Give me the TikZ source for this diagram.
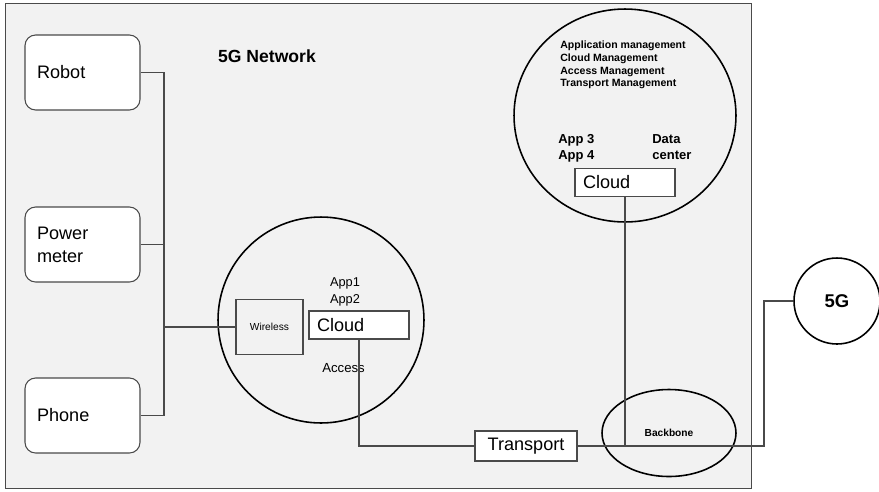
\documentclass[tikz,border=0pt]{standalone}
\usepackage{fontspec}
\setmainfont{Liberation Sans}
\usetikzlibrary{shapes.geometric, positioning}
\definecolor{netgray}{HTML}{F2F2F2}
\definecolor{linegray}{HTML}{4A4A4A}

\begin{document}
\begin{tikzpicture}[
    x=0.02cm, y=-0.02cm,
    device/.style={rectangle, rounded corners=6pt, draw=linegray, fill=white, line width=0.6pt,
        minimum width=2.3cm, minimum height=1.5cm, text width=1.82cm, inner xsep=0.24cm,
        align=left, font=\fontsize{10.3}{13}\selectfont},
    cloudbox/.style={rectangle, draw=linegray, fill=white, line width=0.6pt,
        minimum width=2cm, minimum height=0.56cm, text width=1.68cm, inner xsep=0.16cm,
        align=left, font=\fontsize{10.3}{12}\selectfont},
    ring/.style={ellipse, draw=black, line width=0.9pt, inner sep=0pt},
    wire/.style={draw=linegray, line width=0.6pt},
    note/.style={inner sep=0pt, align=left, font=\fontsize{7.3}{9.7}\selectfont},
    boldnote/.style={inner sep=0pt, align=left, font=\bfseries\fontsize{7.4}{9.1}\selectfont}
]
\useasboundingbox (0,0) rectangle (879,491);

% The 5G network frame
\node[rectangle, draw=linegray, fill=netgray, line width=0.6pt,
      minimum width=14.94cm, minimum height=9.72cm] (net) at (378.5,246) {};
\node[font=\bfseries\fontsize{10}{12}\selectfont] (title) at (267,56) {5G Network};

% Junction and bend of the wires
\coordinate (jct) at (164,327);
\coordinate (bend) at (764,446);

% Devices
\node[device] (robot) at (82.5,72.5) {Robot};
\node[device] (power) at (82.5,244.5) {Power\\meter};
\node[device] (phone) at (82.5,415.5) {Phone};

% Access site
\node[ring, minimum width=4.12cm, minimum height=4.12cm] (access) at (321,320) {};
\node[note, anchor=north, align=center] (apps12) at (345,277) {App1\\App2};
\node[note, anchor=north west, font=\fontsize{7.5}{9}\selectfont] (acc) at (322,363) {Access};
\node[rectangle, draw=linegray, fill=netgray, line width=0.6pt, minimum width=1.34cm,
      minimum height=1.1cm, font=\fontsize{5.8}{7}\selectfont] (wireless) at (269.5,327) {Wireless};
\node[cloudbox] (cloudA) at (359,325) {Cloud};

% Data center
\node[ring, minimum width=4.44cm, minimum height=4.26cm] (dc) at (625,115.5) {};
\node[inner sep=0pt, anchor=north west, align=left, font=\bfseries\fontsize{6}{7.2}\selectfont]
    (mgmt) at (560,41) {Application management\\Cloud Management\\Access Management\\Transport Management};
\node[boldnote, anchor=north west] (apps34) at (558,134) {App 3\\App 4};
\node[boldnote, anchor=north west] (dctext) at (652,134) {Data\\center};
\node[cloudbox] (cloudB) at (625,182.5) {Cloud};

% Transport, backbone and the 5G cloud
\node[rectangle, draw=linegray, fill=white, line width=0.6pt, minimum width=2.04cm,
      minimum height=0.6cm, font=\fontsize{10.3}{12}\selectfont] (transport) at (526,446) {Transport};
\node[ring, minimum width=2.68cm, minimum height=1.74cm,
      font=\bfseries\fontsize{5.8}{7}\selectfont] (backbone) at (669,433) {Backbone};
\node[ring, fill=white, minimum size=1.72cm, font=\bfseries\fontsize{10.5}{12}\selectfont]
    (fiveg) at (837,301) {5G};

% Wires
\draw[wire] (robot.east) -| (jct);
\draw[wire] (phone.east) -| (jct);
\draw[wire] (power.east) -- (power.east -| jct);
\draw[wire] (jct) -- (wireless.west);
\draw[wire] (cloudA.south) |- (transport.west);
\draw[wire] (transport.east) -- (bend) |- (fiveg.west);
\draw[wire] (cloudB.south) -- (cloudB.south |- bend);

\end{tikzpicture}
\end{document}
